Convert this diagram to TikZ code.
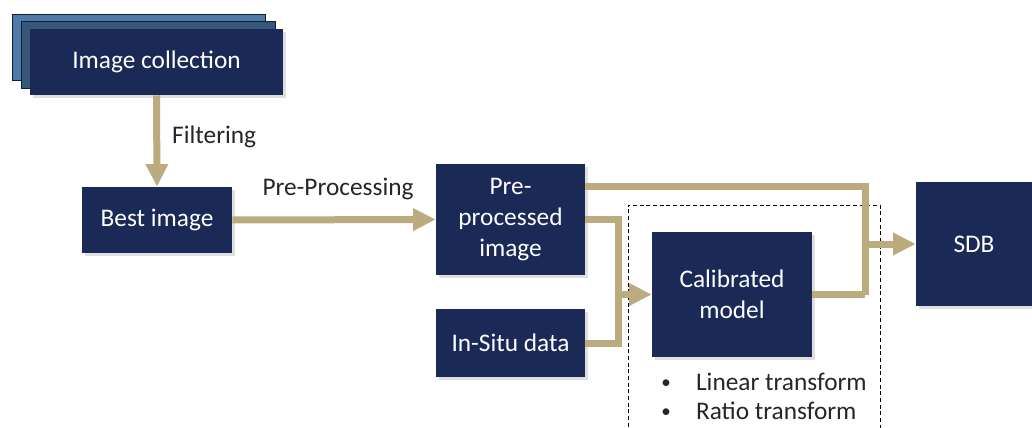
\documentclass[tikz,border=0pt]{standalone}
\usepackage{fontspec}
\setmainfont{Carlito}
\usetikzlibrary{arrows.meta,shadows,calc}
\definecolor{navy}{HTML}{1A2956}
\definecolor{stackA}{HTML}{4E7CA7}
\definecolor{stackB}{HTML}{37577A}
\definecolor{flowtan}{HTML}{BCAB7E}
\definecolor{labelgray}{HTML}{262626}
\tikzset{
  box/.style={fill=navy, text=white, inner sep=0pt, align=center,
    font=\fontsize{19}{23}\selectfont,
    drop shadow={shadow xshift=2pt, shadow yshift=-2pt, opacity=0.25}},
  layer/.style={draw=navy!70!black, line width=0.6pt},
  flow/.style={draw=flowtan, line width=5.25pt},
  flowarrow/.style={flow, -{Triangle[length=17pt,width=16pt]}},
  lbl/.style={text=labelgray, font=\fontsize{19}{23}\selectfont, inner sep=0pt},
}
\newcommand{\smallbullet}{\raisebox{0.15ex}{\scalebox{0.75}{\textbullet}}}
\begin{document}
\begin{tikzpicture}[x=0.75pt,y=-0.75pt]
\useasboundingbox (0,0) rectangle (1032,428);
\clip (0,0) rectangle (1032,428);

% stacked image collection
\draw[layer, fill=stackA] (12,14) rectangle (265,80);
\draw[layer, fill=stackB] (21,21) rectangle (275,88);
\node[box, minimum width=253*0.75pt, minimum height=66*0.75pt] (coll) at (156.5,62) {Image collection};

% process boxes
\node[box, minimum width=150*0.75pt, minimum height=66*0.75pt] (best) at (157,220) {Best image};
\node[box, minimum width=149*0.75pt, minimum height=111*0.75pt] (pre) at (510.5,219.5) {Pre-\\processed\\image};
\node[box, minimum width=149*0.75pt, minimum height=68*0.75pt] (insitu) at (510.5,343) {In-Situ data};
\node[box, minimum width=160*0.75pt, minimum height=125*0.75pt] (cal) at (732,294.5) {Calibrated\\model};
\node[box, minimum width=116*0.75pt, minimum height=124*0.75pt] (sdb) at (974,244) {SDB};

% calibration frame
\draw[dashed, line width=0.6pt, dash pattern=on 3pt off 2pt] (628,440) -- (628,205) -- (880,205) -- (880,440);

% junction points
\coordinate (mergeL) at (618,0 |- cal.west);
\coordinate (mergeR) at (865,244);

% connectors
\draw[flowarrow] (coll.south) -- (best.north)
  node[lbl, pos=0.45, right=9pt] {Filtering};
\draw[flowarrow] (best.east) -- (pre.west)
  node[lbl, midway, above=12pt, xshift=3pt] {Pre-Processing};
\draw[flow] ($(pre.north east)!0.2!(pre.south east)$) -| (mergeR);
\draw[flow] (mergeR |- cal.east) -- (cal.east);
\draw[flow] (mergeR) -- (mergeR |- cal.east);
\draw[flowarrow] (mergeR) -- (sdb.west |- mergeR);
\draw[flow] (pre.east) -| (mergeL);
\draw[flow] (insitu.east) -| (mergeL);
\draw[flowarrow] (mergeL) -- (cal.west);

% model options
\node[lbl, anchor=west] (opt1) at (661,382) {\smallbullet\hspace{19pt}Linear transform};
\node[lbl, anchor=west] (opt2) at (661,411) {\smallbullet\hspace{19pt}Ratio transform};
\end{tikzpicture}
\end{document}
